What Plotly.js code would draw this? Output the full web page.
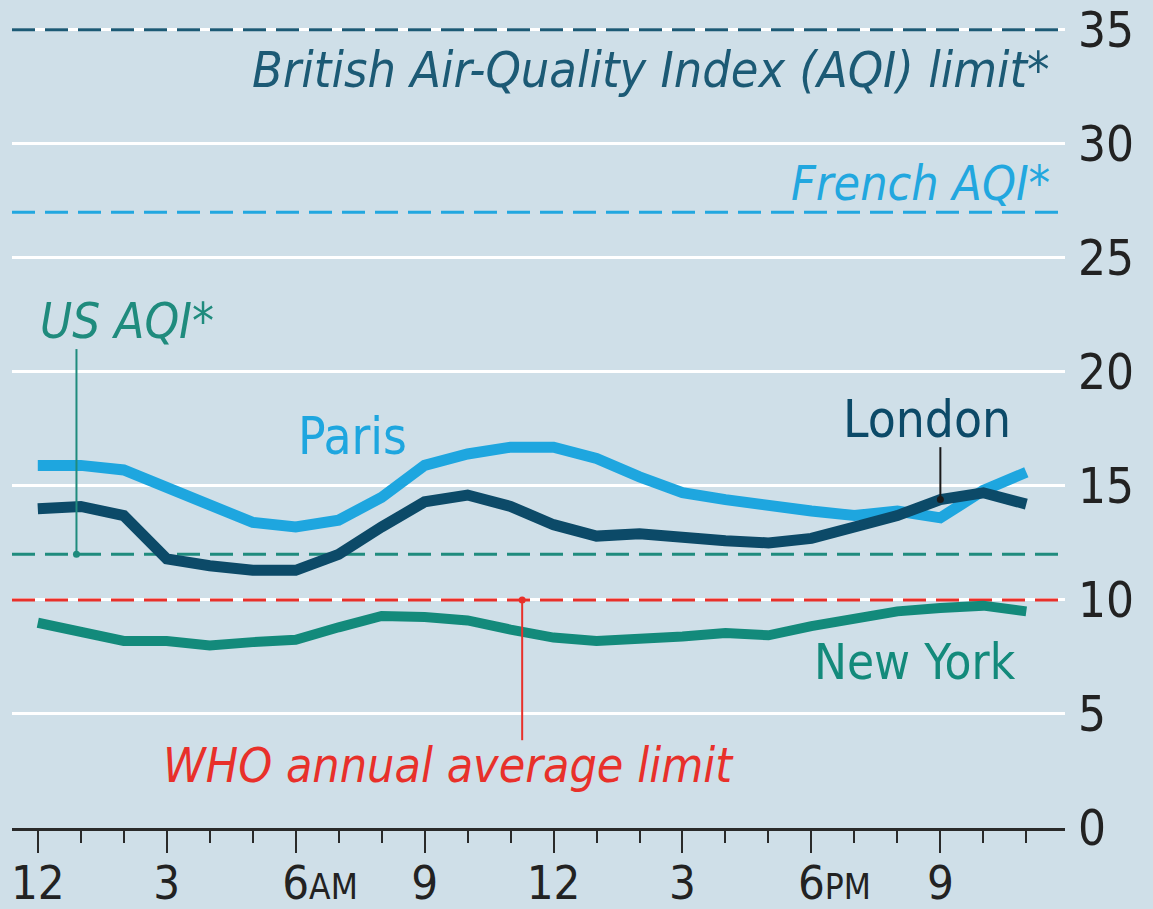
<!DOCTYPE html>
<html>
<head>
<meta charset="utf-8">
<script src="https://cdn.plot.ly/plotly-3.0.1.min.js"></script>
<style>
  html, body { margin: 0; padding: 0; background: #cfdfe8; }
  #chart { width: 1153px; height: 909px; }
</style>
</head>
<body>
<div id="chart"></div>
<script>
// ---- data ----
const hours = [0,1,2,3,4,5,6,7,8,9,10,11,12,13,14,15,16,17,18,19,20,21,22,23];
const paris = [15.9,15.9,15.7,14.9,14.2,13.4,13.2,13.5,14.5,15.9,16.4,16.7,16.7,16.2,15.4,14.7,14.4,14.1,13.9,13.7,13.9,13.6,14.8,15.6];
const london = [14.0,14.1,13.7,11.8,11.5,11.3,11.3,12.0,13.2,14.3,14.6,14.1,13.3,12.8,12.9,12.7,12.6,12.5,12.7,13.2,13.7,14.4,14.7,14.2];
const newYork = [9.0,8.55,8.2,8.2,8.0,8.15,8.25,8.8,9.3,9.25,9.1,8.7,8.35,8.2,8.25,8.4,8.55,8.45,8.85,9.2,9.5,9.65,9.75,9.5];

const limitNames = ["British Air-Quality Index (AQI) limit*", "French AQI*", "US AQI*", "WHO annual average limit"];
const limitValues = [35, 27, 12, 10];

const tickVals = [0,3,6,9,12,15,18,21];
const tickLabels = ["12","3","6AM","9","12","3","6PM","9"];
const yTicks = [0,5,10,15,20,25,30,35];

// ---- style ----
const FONT = "'DejaVu Sans Condensed', 'Liberation Sans Narrow', 'DejaVu Sans', sans-serif";
const C = {
  bg: '#cfdfe8',
  paris: '#1ea6df',
  london: '#0c4a68',
  ny: '#138a7b',
  british: '#1c5a75',
  french: '#22a7df',
  us: '#1f8b7d',
  who: '#e8302a',
  axis: '#2a2a2a'
};
const limitColors = [C.british, C.french, C.us, C.who];
const X_RANGE = [-0.6, 23.9];

// small-caps style for AM/PM, with an invisible copy in front so the digit sits on the tick
const fmtTick = t => {
  const m = t.match(/^(\d+)(AM|PM)$/);
  if (!m) return t;
  return "<span style='font-size:35px;fill-opacity:0'>" + m[2] + "</span>" + m[1] +
         "<span style='font-size:35px'>" + m[2] + "</span>";
};
const tickText = tickLabels.map(fmtTick);

const traces = [];
// limit lines (drawn first: above the grid, below the series)
limitValues.forEach((v, i) => {
  traces.push({x: X_RANGE, y: [v, v], mode: 'lines', cliponaxis: false,
    line: {color: limitColors[i], width: 3, dash: '23px,10px'}, hoverinfo: 'skip'});
});
traces.push({x: hours, y: paris, mode: 'lines', line: {color: C.paris, width: 11}, hoverinfo: 'skip'});
traces.push({x: hours, y: london, mode: 'lines', line: {color: C.london, width: 11}, hoverinfo: 'skip'});
traces.push({x: hours, y: newYork, mode: 'lines', line: {color: C.ny, width: 10}, hoverinfo: 'skip'});

// label leaders
const usLeader = {x: 0.9, y0: limitValues[2], y1: 21.0};
const whoLeader = {x: 11.27, y0: limitValues[3], y1: 3.85};
const londonLeader = {x: 21, y0: london[21], y1: 16.7};

const shapes = [];
[[usLeader, C.us], [whoLeader, C.who], [londonLeader, '#1a1a1a']].forEach(([L, col]) => {
  shapes.push({type: 'line', xref: 'x', yref: 'y', x0: L.x, x1: L.x, y0: L.y0, y1: L.y1,
    line: {color: col, width: 2}, layer: 'above'});
  traces.push({x: [L.x], y: [L.y0], mode: 'markers', marker: {color: col, size: 7}, hoverinfo: 'skip'});
});

const ann = (text, x, y, color, xanchor, italic, size) => ({
  text: italic ? '<i>' + text + '</i>' : text,
  x: x, y: y, xref: 'x', yref: 'y', xanchor: xanchor, yanchor: 'middle',
  showarrow: false, font: {family: FONT, size: size, color: color}
});

const annotations = [
  ann(limitNames[0], 23.6, 33.25, C.british, 'right', true, 50),
  ann(limitNames[1], 23.6, 28.3, C.french, 'right', true, 48),
  ann(limitNames[2], 0, 22.2, C.us, 'left', true, 49),
  ann(limitNames[3], 9.55, 2.76, C.who, 'center', true, 48),
  ann('Paris', 7.33, 17.15, C.paris, 'center', false, 51),
  ann('London', 20.7, 17.9, C.london, 'center', false, 51),
  ann('New York', 20.4, 7.24, C.ny, 'center', false, 49)
];

const layout = {
  width: 1153, height: 909,
  margin: {l: 12, r: 88, t: 7, b: 81},
  paper_bgcolor: C.bg, plot_bgcolor: C.bg,
  showlegend: false,
  font: {family: FONT, color: '#222'},
  xaxis: {
    range: X_RANGE, fixedrange: true,
    tickvals: tickVals, ticktext: tickText,
    ticks: 'outside', ticklen: 22, tickwidth: 2, tickcolor: C.axis,
    minor: {dtick: 1, tick0: 0, ticks: 'outside', ticklen: 12, tickwidth: 2, tickcolor: C.axis, showgrid: false},
    showgrid: false, zeroline: false,
    showline: true, linecolor: C.axis, linewidth: 3,
    ticklabelstandoff: -10,
    tickfont: {family: FONT, size: 47, color: '#222'}
  },
  yaxis: {
    range: [0, 36], fixedrange: true, side: 'right',
    tickvals: yTicks, ticks: '',
    showgrid: true, gridcolor: '#ffffff', gridwidth: 3,
    zeroline: false, showline: false,
    ticklabelstandoff: 12,
    tickfont: {family: FONT, size: 49, color: '#222'}
  },
  shapes: shapes,
  annotations: annotations
};

Plotly.newPlot('chart', traces, layout, {displayModeBar: false, staticPlot: true});
</script>
</body>
</html>
